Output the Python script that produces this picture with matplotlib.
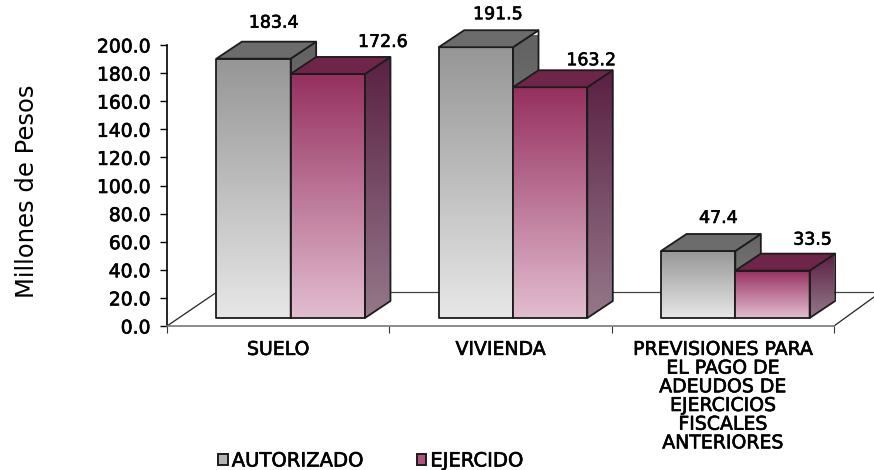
import matplotlib
matplotlib.use('Agg')
import matplotlib.pyplot as plt
import numpy as np
import matplotlib.patheffects as pe
from matplotlib.colors import LinearSegmentedColormap
from matplotlib.patches import Patch, Polygon

categories = ['SUELO', 'VIVIENDA',
              'PREVISIONES PARA\nEL PAGO DE\nADEUDOS DE\nEJERCICIOS\nFISCALES\nANTERIORES']
autorizado = [183.4, 191.5, 47.4]
ejercido = [172.6, 163.2, 33.5]
y_ticks = [0, 20, 40, 60, 80, 100, 120, 140, 160, 180, 200]

W, H = 874, 470
plt.rcParams['font.family'] = ['DejaVu Sans']
fig = plt.figure(figsize=(W / 100, H / 100), dpi=100)

# makes the thin DejaVu a bit heavier, closer to the original font
heavy = [pe.withStroke(linewidth=0.45, foreground='black')]

# pixel helpers for the axes boxes
left, right = 167, 834
ax = fig.add_axes([left / W, (H - 326) / H, (right - left) / W, 281 / H])
ax.set_xlim(0, 3)
ax.set_ylim(0, 200)
ax.set_yticks(y_ticks)
ax.set_yticklabels([f'{t:.1f}' for t in y_ticks], fontsize=13.5, path_effects=heavy)
ax.set_xticks([0, 1, 2, 3])
ax.set_xticklabels([])
ax.set_xticks([0.5, 1.5, 2.5], minor=True)
ax.set_xticklabels(categories, minor=True, fontsize=13.6, linespacing=0.98, path_effects=heavy)
ax.tick_params(axis='x', which='minor', length=0, pad=10)
ax.tick_params(axis='x', which='major', length=5, width=0.8, direction='out', color='#333333')
ax.tick_params(axis='y', length=5, width=1, pad=7)
ax.set_ylabel('Millones de Pesos', fontsize=17.5)
ax.yaxis.set_label_coords((39 - left) / (right - left), 0.48)
for s in ['top', 'right']:
    ax.spines[s].set_visible(False)
ax.spines['left'].set_linewidth(1.2)
ax.spines['bottom'].set_color('#777777')
ax.spines['bottom'].set_linewidth(1.2)

# floor of the fake 3D box, drawn on the tick axes
px_x = 3 / (right - left)
px_y = 200 / 281
floor_dx = 50 * px_x
floor_dy = 34 * px_y
ax.plot([0, floor_dx], [0, floor_dy], color='#222222', lw=0.9, clip_on=False)
ax.plot([floor_dx, 3 + 40 * px_x], [floor_dy, floor_dy], color='#444444', lw=0.9, clip_on=False)
ax.plot([3, 3 + 40 * px_x], [0, 29 * px_y], color='#222222', lw=0.9, clip_on=False)

# bars have their own scale: base sits above the axis line
bar_ax = fig.add_axes([left / W, (H - 318) / H, (right - left) / W, 282.8 / H])
bar_ax.axis('off')
bar_ax.set_xlim(0, 3)
bar_ax.set_ylim(0, 200)
bar_px_y = 200 / 282.8
depth_x = 25.5 * px_x
depth_y = 17 * bar_px_y
bar_w = 74.3 * px_x
group_shift = 12.5 * px_x

grey = LinearSegmentedColormap.from_list('g', ['#E7E7E7', '#969696'])
purple = LinearSegmentedColormap.from_list('p', ['#E2BDD0', '#96305F'])
purple_side = LinearSegmentedColormap.from_list('ps', ['#95788A', '#5A2143'])
grey_side = LinearSegmentedColormap.from_list('gs', ['#8A8A8A', '#626262'])


def grad_poly(points, cmap, y0, y1, z):
    img = np.linspace(1, 0, 128).reshape(-1, 1)
    xs = [p[0] for p in points]
    im = bar_ax.imshow(img, cmap=cmap, vmin=0, vmax=1, aspect='auto', zorder=z,
                       extent=[min(xs), max(xs), y0, y1], clip_on=True)
    poly = Polygon(points, closed=True, facecolor='none', edgecolor='none',
                   transform=bar_ax.transData)
    bar_ax.add_patch(poly)
    im.set_clip_path(poly)
    edge = Polygon(points, closed=True, facecolor='none', edgecolor='#1c1c1c',
                   lw=1.3, zorder=z + 0.1, clip_on=False, joinstyle='round')
    bar_ax.add_patch(edge)


def bar3d(x, v, front, side, top_col, z):
    grad_poly([(x, 0), (x + bar_w, 0), (x + bar_w, v), (x, v)], front, 0, v, z)
    grad_poly([(x + bar_w, 0), (x + bar_w + depth_x, depth_y),
               (x + bar_w + depth_x, v + depth_y), (x + bar_w, v)], side, 0, v + depth_y, z)
    bar_ax.add_patch(Polygon([(x, v), (x + depth_x, v + depth_y),
                              (x + bar_w + depth_x, v + depth_y), (x + bar_w, v)], closed=True,
                             facecolor=top_col, edgecolor='#1c1c1c', lw=1.3, zorder=z + 0.2,
                             clip_on=False))


# label offsets from bar top, px
label_off = [(20, 36), (55, 32), (22, 33), (41, 27), (20, 33), (40, 31)]

for i in range(3):
    c = i + 0.5 + group_shift
    a_x = c - bar_w
    e_x = c
    z = 3 + i * 2
    bar3d(a_x, autorizado[i], grey, grey_side, '#6C6C6C', z)
    bar3d(e_x, ejercido[i], purple, purple_side, '#6F2449', z + 1)
    off_a = label_off[i * 2]
    off_e = label_off[i * 2 + 1]
    bar_ax.annotate(f'{autorizado[i]:.1f}', (a_x + bar_w / 2, autorizado[i]),
                    xytext=(off_a[0] * 0.72, off_a[1] * 0.72), textcoords='offset points',
                    ha='center', va='center', fontsize=12.5, annotation_clip=False, zorder=20,
                    path_effects=heavy)
    bar_ax.annotate(f'{ejercido[i]:.1f}', (e_x + bar_w / 2, ejercido[i]),
                    xytext=(off_e[0] * 0.72, off_e[1] * 0.72), textcoords='offset points',
                    ha='center', va='center', fontsize=12.5, annotation_clip=False, zorder=20,
                    path_effects=heavy)

bar_ax.set_xlim(0, 3)
bar_ax.set_ylim(0, 200)

handles = [Patch(facecolor='#B5B5B5', edgecolor='#1c1c1c', lw=1.4, label='AUTORIZADO'),
           Patch(facecolor='#B0547F', edgecolor='#1c1c1c', lw=1.4, label='EJERCIDO')]
leg = fig.legend(handles=handles, ncol=2, frameon=False, fontsize=14.1, handlelength=0.5, handleheight=0.5,
                 handletextpad=0.2, columnspacing=2.7, loc='center left',
                 bbox_to_anchor=(218 / W, (H - 461) / H), borderpad=0, borderaxespad=0)
for t in leg.get_texts():
    t.set_path_effects(heavy)

plt.savefig('out.png', dpi=100)
